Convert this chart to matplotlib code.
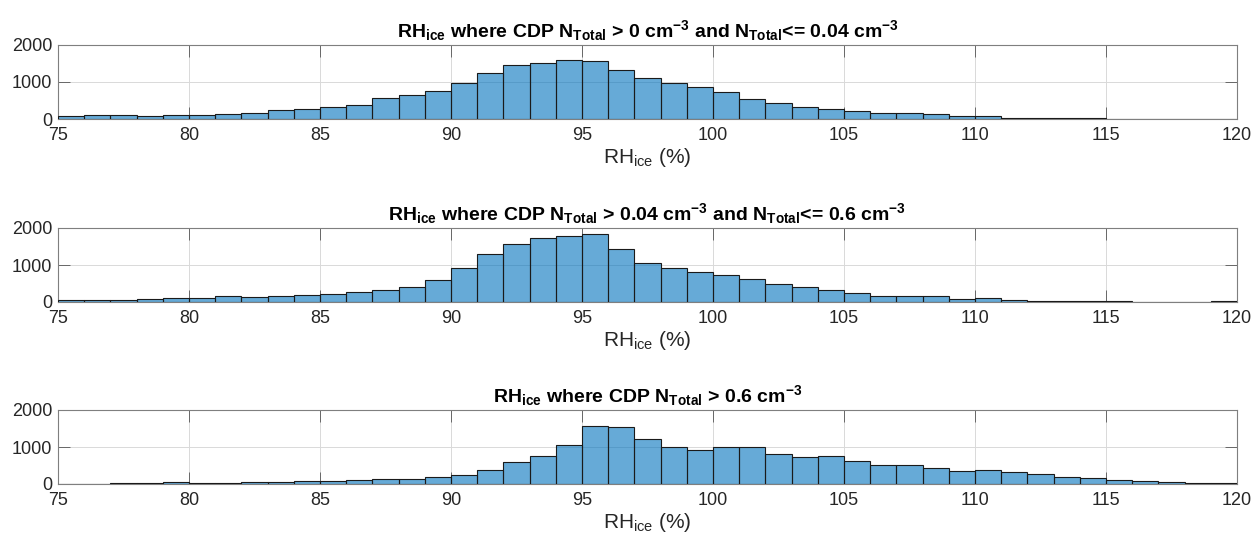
import numpy as np
import matplotlib.pyplot as plt

plt.rcParams['font.family'] = ['Liberation Sans', 'DejaVu Sans']
plt.rcParams['mathtext.fontset'] = 'custom'
plt.rcParams['mathtext.rm'] = 'Liberation Sans'
plt.rcParams['mathtext.it'] = 'Liberation Sans'
plt.rcParams['mathtext.bf'] = 'Liberation Sans:bold'

# RH_ice histogram counts, 1 % bins from 75 to 120
bin_edges = np.arange(75, 121, 1)

counts_low = [70, 115, 97, 88, 106, 97, 124, 160, 240, 265,
              336, 390, 557, 655, 752, 973, 1239, 1451, 1504, 1584,
              1558, 1336, 1106, 973, 867, 726, 549, 442, 336, 283,
              221, 150, 150, 124, 71, 71, 18, 18, 27, 18,
              9, 4, 4, 9, 9]

counts_mid = [45, 60, 60, 73, 109, 118, 155, 136, 164, 182,
              227, 264, 336, 418, 591, 909, 1309, 1555, 1727, 1782,
              1827, 1427, 1045, 927, 800, 727, 618, 500, 409, 336,
              245, 155, 155, 173, 82, 100, 45, 27, 27, 36,
              36, 9, 4, 9, 18]

counts_high = [3, 3, 18, 18, 54, 18, 27, 45, 63, 81,
               81, 117, 144, 144, 198, 243, 378, 604, 757, 1054,
               1568, 1541, 1216, 1000, 919, 1000, 991, 802, 739, 757,
               622, 523, 505, 432, 360, 387, 324, 270, 198, 171,
               117, 72, 54, 36, 18]

titles = [
    r'RH$_{\mathbf{ice}}$ where CDP N$_{\mathbf{Total}}$ > 0 cm$^{\mathbf{-3}}$'
    r' and N$_{\mathbf{Total}}$<= 0.04 cm$^{\mathbf{-3}}$',
    r'RH$_{\mathbf{ice}}$ where CDP N$_{\mathbf{Total}}$ > 0.04 cm$^{\mathbf{-3}}$'
    r' and N$_{\mathbf{Total}}$<= 0.6 cm$^{\mathbf{-3}}$',
    r'RH$_{\mathbf{ice}}$ where CDP N$_{\mathbf{Total}}$ > 0.6 cm$^{\mathbf{-3}}$',
]

face = (0.0, 0.447, 0.741)
dark = '#262626'

fig = plt.figure(figsize=(12.6, 5.41), dpi=100)
tops = [45, 228, 410]
for top, counts, title in zip(tops, [counts_low, counts_mid, counts_high], titles):
    ax = fig.add_axes([58 / 1260, 1 - (top + 74) / 541, 1179 / 1260, 74 / 541])
    ax.bar(bin_edges[:-1], counts, width=1, align='edge', color=face,
           alpha=0.6, edgecolor='none', zorder=2)
    ax.bar(bin_edges[:-1], counts, width=1, align='edge', facecolor='none',
           edgecolor='#1a1a1a', linewidth=0.8, zorder=3)
    ax.set_xlim(75, 120)
    ax.set_ylim(0, 2000)
    ax.set_xticks(np.arange(75, 121, 5))
    ax.set_yticks([0, 1000, 2000])
    ax.grid(True, color='#d9d9d9', linewidth=0.7)
    ax.set_axisbelow(True)
    ax.tick_params(direction='in', length=8.5, width=0.6, color='#555555',
                   top=True, right=True, labelsize=13, labelcolor=dark)
    ax.tick_params(axis='x', pad=6)
    ax.tick_params(axis='y', pad=4)
    for s in ax.spines.values():
        s.set_color('#7f7f7f')
        s.set_linewidth(0.8)
    ax.set_xlabel(r'RH$_{\mathrm{ice}}$ (%)', fontsize=15, color=dark, labelpad=1)
    ax.set_title(title, fontsize=14, fontweight='bold', color='black', pad=6)

fig.savefig('out.png', dpi=100)
